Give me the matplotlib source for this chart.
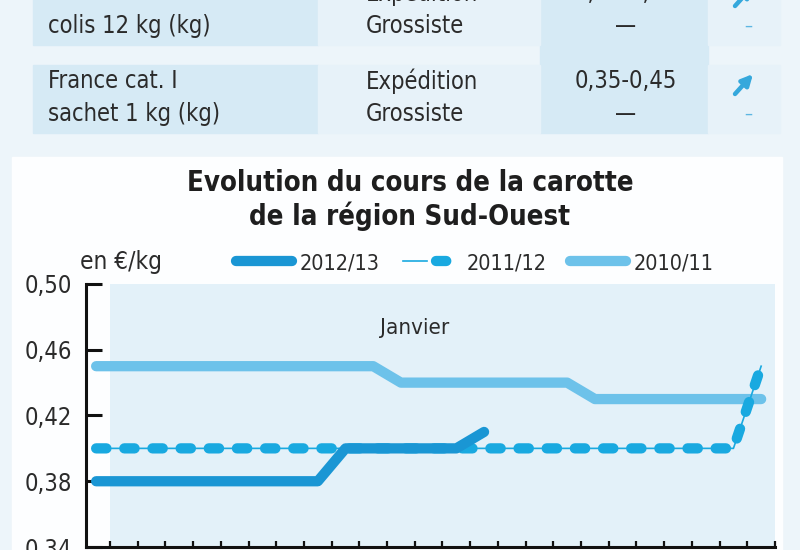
import matplotlib
matplotlib.use("Agg")
import matplotlib.pyplot as plt
from matplotlib.patches import Rectangle
from matplotlib.legend_handler import HandlerTuple

plt.rcParams['font.family'] = ['DejaVu Sans']
plt.rcParams['font.stretch'] = 'condensed'

# --- data (weekly prices, €/kg) ---
weeks = [w - 0.5 for w in range(25)]  # mid-week positions
price_1213 = [0.38] * 9 + [0.40] * 5 + [0.41]
price_1112 = [0.40] * 24 + [0.45]
price_1011 = [0.45] * 11 + [0.44] * 7 + [0.43] * 7
season_labels = ["2012/13", "2011/12", "2010/11"]
y_ticks = [0.34, 0.38, 0.42, 0.46, 0.50]
y_labels = ["0,34", "0,38", "0,42", "0,46", "0,50"]
month_label = "Janvier"

# table rows above the chart
rows = [
    (("France cat. I", "colis 12 kg (kg)"), ("Expédition", "Grossiste"), ("0,32-0,45", "—")),
    (("France cat. I", "sachet 1 kg (kg)"), ("Expédition", "Grossiste"), ("0,35-0,45", "—")),
]

W, H = 800, 550
C_DARK = "#1a96d4"
C_DASH = "#19a9e0"
C_LIGHT = "#6dc2ea"
TXT = "#2b2b2b"

fig = plt.figure(figsize=(W / 100, H / 100), dpi=100, facecolor="#edf5fa")


def fx(x):
    return x / W


def fy(y):
    return 1 - y / H


def rect(x0, y0, x1, y1, color):
    fig.patches.append(Rectangle((fx(x0), fy(y1)), fx(x1) - fx(x0), fy(y0) - fy(y1),
                                 transform=fig.transFigure, color=color, zorder=-5))


# table cells
row_spans = [(-20, 45), (65, 133)]
rect(540, -20, 708, 133, "#d6eaf5")
for y0, y1 in row_spans:
    rect(33, y0, 318, y1, "#d6eaf5")
    rect(318, y0, 540, y1, "#e7f2f9")
    rect(708, y0, 780, y1, "#e7f2f9")

fs_tab = 17
for (name, kind, (price, gros)), (y0, y1) in zip(rows, row_spans):
    ya, yb = y1 - 52, y1 - 19
    fig.text(fx(48), fy(ya), name[0], ha="left", va="center", fontsize=fs_tab, color=TXT)
    fig.text(fx(48), fy(yb), name[1], ha="left", va="center", fontsize=fs_tab, color=TXT)
    fig.text(fx(366), fy(ya), kind[0], ha="left", va="center", fontsize=fs_tab, color=TXT)
    fig.text(fx(366), fy(yb), kind[1], ha="left", va="center", fontsize=fs_tab, color=TXT)
    fig.text(fx(626), fy(ya), price, ha="center", va="center", fontsize=fs_tab, color=TXT)
    fig.text(fx(626), fy(yb), gros, ha="center", va="center", fontsize=fs_tab, color=TXT)
    fig.text(fx(748), fy(yb), "–", ha="center", va="center", fontsize=13, color="#5db6e2")
    fig.add_artist(plt.Annotation("", xy=(fx(753), fy(ya - 7)), xytext=(fx(735), fy(ya + 13)),
                                  xycoords=fig.transFigure, textcoords=fig.transFigure,
                                  arrowprops=dict(arrowstyle="-|>", color="#35a8dc", lw=3.2,
                                                  mutation_scale=16, shrinkA=0, shrinkB=0)))

# white chart panel
rect(12, 157, 782, 560, "#fdfeff")

fig.text(fx(410), fy(200), "Evolution du cours de la carotte\nde la région Sud-Ouest",
         ha="center", va="center", fontsize=19.8, fontweight="bold", color="#1e1e1e", linespacing=1.2)
fig.text(fx(80), fy(262), "en €/kg", ha="left", va="center", fontsize=17.5, color=TXT)

# chart axes
ax = fig.add_axes([fx(86), fy(547), fx(775) - fx(86), fy(284) - fy(547)])
ax.set_facecolor("none")
ax.set_xlim(-0.866, 24)
ax.set_ylim(0.34, 0.50)
ax.axvspan(0, 24, color="#e3f1f9", zorder=0, lw=0)

lw = 7.4
l11, = ax.plot(weeks, price_1011, color=C_LIGHT, lw=lw, solid_capstyle="round",
               solid_joinstyle="round", zorder=2, label=season_labels[2])
thin, = ax.plot(weeks, price_1112, color=C_DASH, lw=1.2, zorder=3)
l12, = ax.plot(weeks, price_1112, color=C_DASH, lw=lw, dashes=(1.0, 1.74),
               dash_capstyle="round", dash_joinstyle="round", zorder=3)
l13, = ax.plot(weeks[:len(price_1213)], price_1213, color=C_DARK, lw=lw, solid_capstyle="round",
               solid_joinstyle="round", zorder=4, label=season_labels[0])

ax.text(11, 0.4735, month_label, ha="center", va="center", fontsize=16, color=TXT)

for s in ("top", "right"):
    ax.spines[s].set_visible(False)
for s in ("left", "bottom"):
    ax.spines[s].set_linewidth(2.2)
    ax.spines[s].set_color("#111111")
    ax.spines[s].set_capstyle("projecting")

ax.set_yticks(y_ticks)
ax.set_yticklabels(y_labels)
ax.set_xticks(range(25))
ax.set_xticklabels([])
ax.tick_params(axis="y", direction="in", length=11.5, width=2.2, pad=10, labelsize=17,
               colors="#111111", labelcolor=TXT)
ax.tick_params(axis="x", direction="in", length=4, width=1.6, colors="#111111")

ax.legend([l13, (thin, l12), l11], season_labels, ncol=3, loc="center",
          bbox_to_anchor=(fx(475), fy(263)), bbox_transform=fig.transFigure,
          frameon=False, fontsize=15.5, handlelength=2.6, handletextpad=0.35,
          columnspacing=1.1, labelcolor=TXT,
          handler_map={tuple: HandlerTuple(ndivide=None)})

fig.savefig("out.png", dpi=100, facecolor=fig.get_facecolor())
